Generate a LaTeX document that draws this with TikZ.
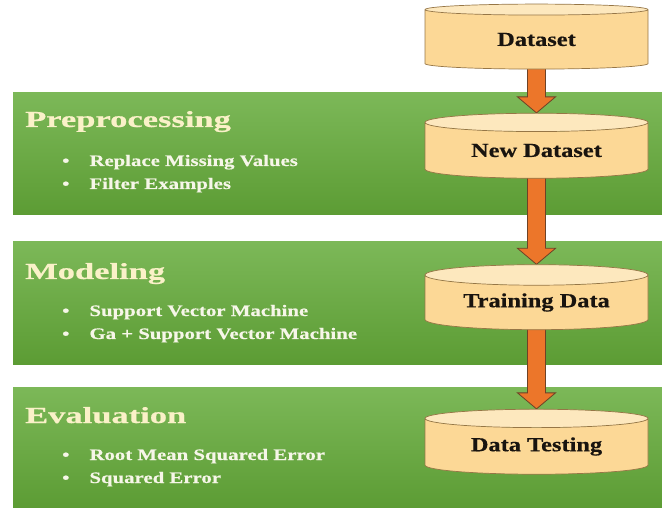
\documentclass[tikz,border=0pt]{standalone}
\usepackage{fontspec}
\setmainfont{Liberation Serif}
\newfontfamily\headfont{Liberation Serif}[FakeStretch=1.5, FakeBold=0.6]
\newfontfamily\itemfont{Liberation Serif}[FakeStretch=1.3, FakeBold=0.5]
\newfontfamily\dbfont{Liberation Serif}[FakeStretch=1.22, FakeBold=0.5]
\usetikzlibrary{shapes.geometric,calc,positioning,backgrounds}

\definecolor{bandtop}{RGB}{124,184,88}
\definecolor{bandbot}{RGB}{92,156,52}
\definecolor{headcol}{RGB}{250,241,200}
\definecolor{itemcol}{RGB}{246,246,232}
\definecolor{dbbody}{RGB}{252,216,150}
\definecolor{dbend}{RGB}{253,232,190}
\definecolor{dbline}{RGB}{150,118,70}
\definecolor{dbtext}{RGB}{25,20,15}
\definecolor{arrowfill}{RGB}{236,118,42}
\definecolor{arrowline}{RGB}{110,66,38}

\tikzset{
  band/.style={top color=bandtop, bottom color=bandbot, draw=none},
  dbase/.style={cylinder, shape border rotate=90, aspect=0.14,
    minimum width=223pt, minimum height=65pt, inner sep=0pt,
    draw=dbline, line width=0.7pt, cylinder uses custom fill,
    cylinder body fill=dbbody, cylinder end fill=dbend,
    text=dbtext, font=\dbfont\bfseries\fontsize{20}{24}\selectfont},
  heading/.style={anchor=base west, inner sep=0pt, text=headcol,
    font=\headfont\bfseries\fontsize{23}{27}\selectfont},
  items/.style={anchor=base west, inner sep=0pt, text=itemcol,
    font=\itemfont\bfseries\fontsize{16}{23}\selectfont},
  blockarrow/.style={fill=arrowfill, draw=arrowline, line width=0.8pt, line join=miter}
}

\begin{document}
\begin{tikzpicture}[x=1pt, y=-1pt]
  \useasboundingbox (0,0) rectangle (662,508);

  % data stores
  \node[dbase] (ds)  at (536.5,39.5)  {Dataset};
  \node[dbase] (nds) at (536.5,150.5) {New Dataset};
  \node[dbase] (trd) at (536.5,302.5) {Training Data};
  \node[dbase] (tst) at (536.5,446.5) {Data Testing};

  % stage texts
  \node[heading] (pre) at (25,127) {Preprocessing};
  \node[items] (prelist) at (62,166) {\begin{tabular}[t]{@{}l@{\hspace{20pt}}l@{}}
    \textbullet & Replace Missing Values\\
    \textbullet & Filter Examples
  \end{tabular}};
  \node[heading] (mod) at (25,279) {Modeling};
  \node[items] (modlist) at (62,316) {\begin{tabular}[t]{@{}l@{\hspace{20pt}}l@{}}
    \textbullet & Support Vector Machine\\
    \textbullet & Ga + Support Vector Machine
  \end{tabular}};
  \node[heading] (eva) at (25,423) {Evaluation};
  \node[items] (evalist) at (62,460) {\begin{tabular}[t]{@{}l@{\hspace{20pt}}l@{}}
    \textbullet & Root Mean Squared Error\\
    \textbullet & Squared Error
  \end{tabular}};

  \begin{scope}[on background layer]
    \fill[band] (13,93) rectangle (662,215);
    \fill[band] (13,242) rectangle (662,364);
    \fill[band] (13,387) rectangle (662,508);
    % arrows between the stores
    \draw[blockarrow] let \p1=(ds.south), \p2=(nds.north) in
      (\x1-9pt,\y1+4pt) -- (\x1+9pt,\y1+4pt) -- (\x1+9pt,\y2+16pt) -- (\x1+19pt,\y2+16pt)
      -- (\x1,\y2) -- (\x1-19pt,\y2+16pt) -- (\x1-9pt,\y2+16pt) -- cycle;
    \draw[blockarrow] let \p1=(nds.south), \p2=(trd.north) in
      (\x1-9pt,\y1+4pt) -- (\x1+9pt,\y1+4pt) -- (\x1+9pt,\y2+16pt) -- (\x1+19pt,\y2+16pt)
      -- (\x1,\y2) -- (\x1-19pt,\y2+16pt) -- (\x1-9pt,\y2+16pt) -- cycle;
    \draw[blockarrow] let \p1=(trd.south), \p2=(tst.north) in
      (\x1-9pt,\y1+4pt) -- (\x1+9pt,\y1+4pt) -- (\x1+9pt,\y2+16pt) -- (\x1+19pt,\y2+16pt)
      -- (\x1,\y2) -- (\x1-19pt,\y2+16pt) -- (\x1-9pt,\y2+16pt) -- cycle;
  \end{scope}
\end{tikzpicture}
\end{document}
